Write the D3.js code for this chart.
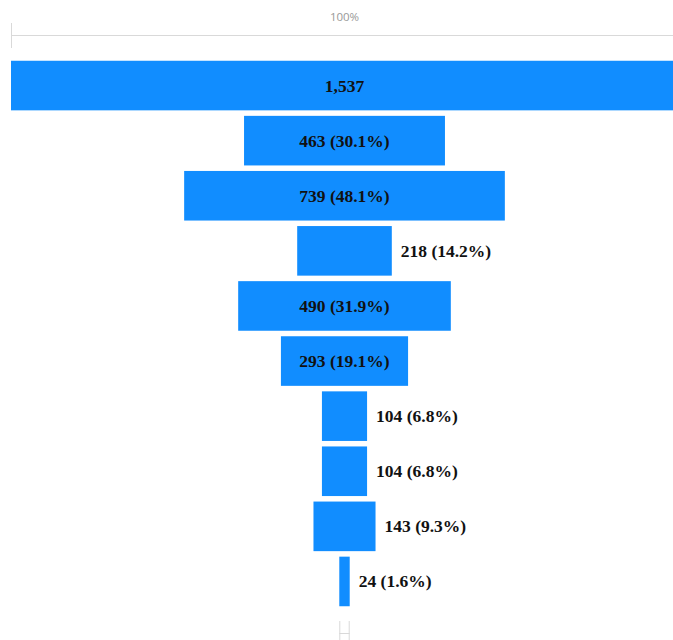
<!DOCTYPE html>
<html>
<head>
<meta charset="utf-8">
<script src="https://cdn.jsdelivr.net/npm/d3@7"></script>
<style>
  html, body { margin: 0; padding: 0; background: #fff; overflow: hidden; }
  svg { display: block; }
</style>
</head>
<body>
<svg id="chart" width="673" height="640"></svg>
<script>
// ---- data ----
const stages = ["Stage 1","Stage 2","Stage 3","Stage 4","Stage 5","Stage 6","Stage 7","Stage 8","Stage 9","Stage 10"];
const values = [1537, 463, 739, 218, 490, 293, 104, 104, 143, 24];
const pctLabels = ["", "30.1%", "48.1%", "14.2%", "31.9%", "19.1%", "6.8%", "6.8%", "9.3%", "1.6%"];
const topAxisLabel = "100%";

// ---- layout ----
const svg = d3.select("#chart");
const fullLeft = 11, fullWidth = 667;
const cx = fullLeft + fullWidth / 2;
const barColor = "#118dff";
const axisColor = "#d9d9d9";

const x = d3.scaleLinear().domain([0, d3.max(values)]).range([0, fullWidth]);
const y = d3.scaleBand().domain(stages).range([58, 609]).paddingInner(0.1).paddingOuter(0.05);

const fmt = d3.format(",");

// top axis
svg.append("line").attr("x1", fullLeft).attr("x2", fullLeft + fullWidth)
  .attr("y1", 35.5).attr("y2", 35.5).attr("stroke", axisColor).attr("stroke-width", 1);
svg.append("line").attr("x1", fullLeft + 0.5).attr("x2", fullLeft + 0.5)
  .attr("y1", 23).attr("y2", 48).attr("stroke", axisColor).attr("stroke-width", 1);
svg.append("line").attr("x1", fullLeft + fullWidth - 0.5).attr("x2", fullLeft + fullWidth - 0.5)
  .attr("y1", 23).attr("y2", 48).attr("stroke", axisColor).attr("stroke-width", 1);
svg.append("text").attr("x", cx).attr("y", 21).attr("text-anchor", "middle")
  .attr("font-family", "'Segoe UI','Open Sans',sans-serif").attr("font-size", 11.5)
  .attr("fill", "#999").text(topAxisLabel);

// bars
const rows = stages.map((s, i) => ({ stage: s, value: values[i], pct: pctLabels[i] }));
const g = svg.append("g");
g.selectAll("rect").data(rows).join("rect")
  .attr("x", d => cx - x(d.value) / 2)
  .attr("y", d => y(d.stage))
  .attr("width", d => x(d.value))
  .attr("height", y.bandwidth())
  .attr("fill", barColor);

// labels
const labels = g.selectAll("text.lbl").data(rows).join("text")
  .attr("class", "lbl")
  .attr("font-family", "'Liberation Serif','Times New Roman',serif")
  .attr("font-weight", "bold")
  .attr("font-size", 17.5)
  .attr("fill", "#111")
  .attr("dominant-baseline", "central")
  .attr("y", d => y(d.stage) + y.bandwidth() / 2)
  .text(d => d.pct ? `${fmt(d.value)} (${d.pct})` : fmt(d.value));

labels.each(function(d) {
  const w = this.getComputedTextLength();
  const bw = x(d.value);
  const t = d3.select(this);
  if (w + 12 < bw) {
    t.attr("x", cx).attr("text-anchor", "middle");
  } else {
    t.attr("x", cx + bw / 2 + 9).attr("text-anchor", "start");
  }
});

// bottom axis (spans last bar width)
const last = rows[rows.length - 1];
const bl = cx - x(last.value) / 2, br = cx + x(last.value) / 2;
svg.append("line").attr("x1", bl).attr("x2", br).attr("y1", 633.5).attr("y2", 633.5)
  .attr("stroke", axisColor);
svg.append("line").attr("x1", bl + 0.5).attr("x2", bl + 0.5).attr("y1", 621).attr("y2", 646)
  .attr("stroke", axisColor);
svg.append("line").attr("x1", br - 0.5).attr("x2", br - 0.5).attr("y1", 621).attr("y2", 646)
  .attr("stroke", axisColor);
</script>
</body>
</html>
